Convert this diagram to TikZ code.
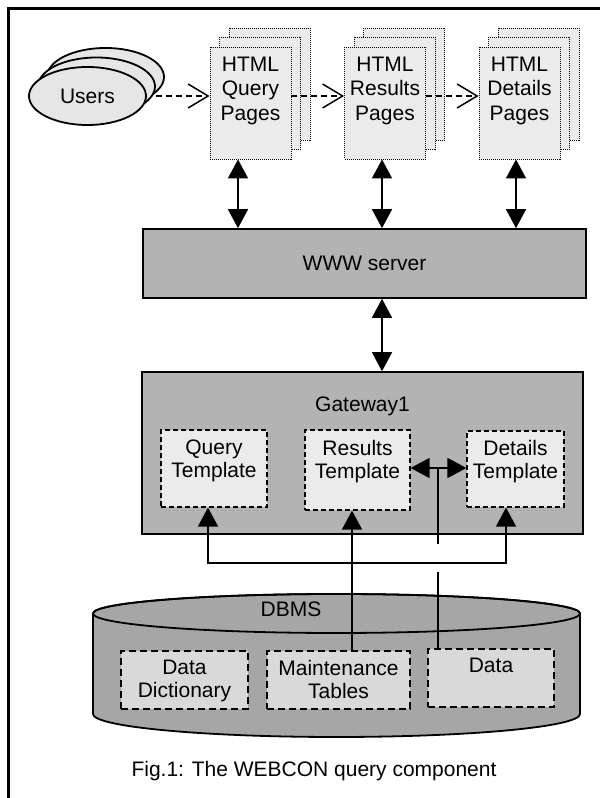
\documentclass[tikz,border=0pt]{standalone}
\usepackage{fontspec}
\setmainfont{Liberation Sans}
\usetikzlibrary{arrows.meta,shapes.geometric}

\definecolor{userfill}{HTML}{E6E6E6}
\definecolor{pagefill}{HTML}{EBEBEB}
\definecolor{srvfill}{HTML}{B3B3B3}
\definecolor{tplfill}{HTML}{EBEBEB}
\definecolor{dbfill}{HTML}{A6A6A6}
\definecolor{dbboxfill}{HTML}{D9D9D9}

\tikzset{
  bigtri/.tip={Triangle[width=20pt,length=19pt]},
  usersell/.style={ellipse, draw, line width=1.8pt, fill=userfill,
    minimum width=117pt, minimum height=58pt, inner sep=0pt},
  pagebox/.style={draw, line width=0.9pt, dash pattern=on 1pt off 1pt,
    fill=pagefill, minimum width=81pt, minimum height=112pt, inner sep=0pt},
  graybox/.style={draw, line width=1.6pt, fill=srvfill, inner sep=0pt},
  tplbox/.style={draw, line width=1.2pt, dash pattern=on 5pt off 3pt,
    fill=tplfill, inner sep=0pt},
  dbbox/.style={draw, line width=1.5pt, dash pattern=on 7pt off 4pt,
    fill=dbboxfill, inner sep=0pt},
  lbl/.style={inner sep=0pt, align=center, anchor=north},
  pagelbl/.style={lbl, font=\fontsize{21}{24.5}\selectfont},
  link/.style={line width=1.6pt},
  flow/.style={line width=1.5pt, dash pattern=on 6pt off 4pt,
    -{Straight Barb[length=20pt,width=24pt,line width=1.5pt]}},
}

\begin{document}
\begin{tikzpicture}[x=1pt,y=1pt,font=\fontsize{21}{23}\selectfont]
\useasboundingbox (0,0) rectangle (600,798);

% frame (left and top edges)
\draw[line width=2.5pt] (8.5,0) -- (8.5,789.5) -- (600,789.5);

% users
\node[usersell] (u3) at (105.5,721) {};
\node[usersell] (u2) at (96.5,711.5) {};
\node[usersell] (u1) at (87.5,702) {Users};

% page stacks
\foreach \nm/\cx in {q/250.5, r/385, d/519.5}{
  \node[pagebox] (\nm3) at (\cx+19,714) {};
  \node[pagebox] (\nm2) at (\cx+9.5,704.5) {};
  \node[pagebox] (\nm1) at (\cx,695) {};
}
\node[pagelbl] (qtxt) at (250.5,741.5) {HTML\\Query\\Pages};
\node[pagelbl] (rtxt) at (385,741.5) {HTML\\Results\\Pages};
\node[pagelbl] (dtxt) at (519.5,741.5) {HTML\\Details\\Pages};

% server and gateway
\node[graybox, minimum width=443pt, minimum height=69pt] (www) at (364.5,534.5) {WWW server};
\node[graybox, minimum width=441pt, minimum height=162pt] (gw) at (362.5,345) {};
\node[inner sep=0pt, anchor=base] (gwtxt) at (362.5,386) {Gateway1};

\node[tplbox, minimum width=106pt, minimum height=77pt] (qt) at (214,329.5) {};
\node[tplbox, minimum width=105pt, minimum height=80pt] (rt) at (357.5,328) {};
\node[tplbox, minimum width=97pt, minimum height=76pt] (dt) at (515.5,329) {};
\node[lbl] (qttxt) at (214,358) {Query\\Template};
\node[lbl] (rttxt) at (357.5,358) {Results\\Template};
\node[lbl] (dttxt) at (515.5,358) {Details\\Template};

% DBMS cylinder
\draw[line width=1.8pt, fill=dbfill]
  (93,184.5) -- (93,84)
  arc[start angle=180, end angle=360, x radius=243.5, y radius=23]
  -- (580,184.5)
  arc[start angle=0, end angle=180, x radius=243.5, y radius=19.5] -- cycle;
\draw[line width=1.8pt] (336.5,184.5) ellipse [x radius=243.5, y radius=19.5];
\node[inner sep=0pt, anchor=base] (dbms) at (291,181) {DBMS};

\node[dbbox, minimum width=127pt, minimum height=58pt] (dd) at (184.5,118) {};
\node[dbbox, minimum width=143pt, minimum height=58pt] (mt) at (338.5,118) {};
\node[dbbox, minimum width=126pt, minimum height=58pt] (data) at (491,120) {};
\node[lbl] (ddtxt) at (184.5,138) {Data\\Dictionary};
\node[lbl] (mttxt) at (338.5,138) {Maintenance\\Tables};
\node[lbl] (datatxt) at (491,140) {Data};

% navigation between pages
\draw[flow] (u2.east |- u1.center) -- (q1.west |- u1.center);
\draw[flow] (q1.east |- u1.center) -- (r1.west |- u1.center);
\draw[flow] (r1.east |- u1.center) -- (d1.west |- u1.center);

% pages <-> server <-> gateway
\draw[link, bigtri-bigtri] ([xshift=-12.5pt]q1.south) -- ([xshift=-12.5pt]q1.south |- www.north);
\draw[link, bigtri-bigtri] ([xshift=-3pt]r1.south) -- ([xshift=-3pt]r1.south |- www.north);
\draw[link, bigtri-bigtri] ([xshift=-3.5pt]d1.south) -- ([xshift=-3.5pt]d1.south |- www.north);
\draw[link, bigtri-bigtri] ([xshift=17.5pt]www.south) -- ([xshift=17.5pt]www.south |- gw.north);

% database -> templates
\coordinate (busL) at (208,235);
\coordinate (busR) at (506,235);
\draw[link, bigtri-bigtri] (qt.south -| busL) -- (busL) -- (busR) -- (dt.south -| busR);

\coordinate (mtup) at ([xshift=13.5pt]mt.north);
\draw[link, -bigtri] (mtup) -- (mtup |- rt.south);

\coordinate (dataup) at ([xshift=-53pt]data.north);
\coordinate (hopLow) at (dataup |- 0,226);
\coordinate (hopHigh) at (dataup |- 0,254);
\coordinate (split) at (dataup |- 0,330);
\draw[link] (dataup) -- (hopLow);
\draw[link] (hopHigh) -- (split);
\draw[link, bigtri-bigtri] (rt.east |- split) -- (dt.west |- split);

% caption
\node[inner sep=0pt, anchor=base] (cap) at (314,21) {Fig.1: The WEBCON query component};
\end{tikzpicture}
\end{document}
